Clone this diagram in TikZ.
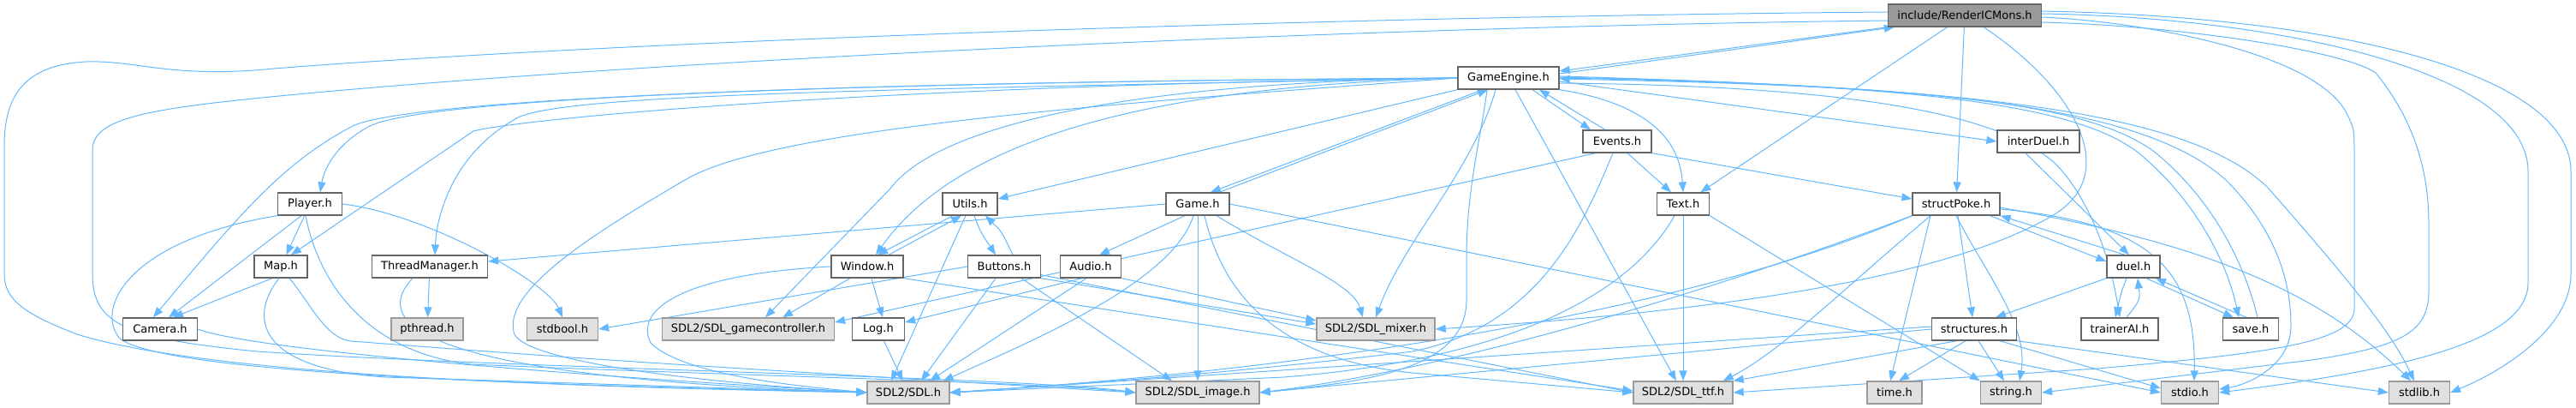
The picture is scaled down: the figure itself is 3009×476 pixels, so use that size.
\documentclass[tikz,border=0pt]{standalone}
\usepackage{fontspec}
\setmainfont{DejaVu Sans}
\usetikzlibrary{arrows.meta}
\definecolor{edgeblue}{HTML}{63B8FF}
\definecolor{boxline}{HTML}{666666}
\definecolor{extline}{HTML}{999999}
\definecolor{extfill}{HTML}{E0E0E0}
\definecolor{rootfill}{HTML}{999999}
\pgfdeclarelayer{edges}
\pgfsetlayers{edges,main}

\begin{document}
\begin{tikzpicture}[x=1pt, y=-1pt,
  hdr/.style={draw=boxline, fill=white, line width=1.3pt, minimum height=26pt,
              inner xsep=8pt, inner ysep=0pt, font=\fontsize{13}{15}\selectfont},
  ext/.style={hdr, draw=extline, fill=extfill},
  rootfile/.style={hdr, draw=boxline, fill=rootfill},
  dep/.style={-{Triangle[length=12pt,width=9pt]}, draw=edgeblue, line width=1pt},
]
\useasboundingbox (0,0) rectangle (3009,476);

\node[rootfile, minimum width=179pt] (rt) at (2295,18) {include/RenderICMons.h};
\node[hdr, minimum width=118pt] (ge) at (1762,91) {GameEngine.h};
\node[hdr, minimum width=80pt] (ev) at (1889,165) {Events.h};
\node[hdr, minimum width=96pt] (idl) at (2381,165) {interDuel.h};
\node[hdr, minimum width=75pt] (pl) at (362,238) {Player.h};
\node[hdr, minimum width=64pt] (ut) at (1133,238) {Utils.h};
\node[hdr, minimum width=74pt] (gm) at (1399,238) {Game.h};
\node[hdr, minimum width=61pt] (tx) at (1966,238) {Text.h};
\node[hdr, minimum width=102pt] (sp) at (2285,238) {structPoke.h};
\node[hdr, minimum width=62pt] (mp) at (328,311) {Map.h};
\node[hdr, minimum width=135pt] (tm) at (502,311) {ThreadManager.h};
\node[hdr, minimum width=84pt] (wn) at (1013,311) {Window.h};
\node[hdr, minimum width=85pt] (bt) at (1173,311) {Buttons.h};
\node[hdr, minimum width=71pt] (au) at (1274,311) {Audio.h};
\node[hdr, minimum width=62pt] (du) at (2492,311) {duel.h};
\node[hdr, minimum width=87pt] (cam) at (187,384) {Camera.h};
\node[ext, minimum width=84pt] (pth) at (499,384) {pthread.h};
\node[ext, minimum width=83pt] (sbool) at (657,384) {stdbool.h};
\node[ext, minimum width=201pt] (gc) at (874,384) {SDL2/SDL\_gamecontroller.h};
\node[hdr, minimum width=61pt] (lg) at (1026,384) {Log.h};
\node[ext, minimum width=138pt] (mix) at (1607,384) {SDL2/SDL\_mixer.h};
\node[hdr, minimum width=99pt] (st) at (2306,384) {structures.h};
\node[hdr, minimum width=90pt] (ai) at (2476,384) {trainerAI.h};
\node[hdr, minimum width=65pt] (sv) at (2629,384) {save.h};
\node[ext, minimum width=96pt] (sdl) at (1061,458) {SDL2/SDL.h};
\node[ext, minimum width=144pt] (img) at (1399,458) {SDL2/SDL\_image.h};
\node[ext, minimum width=116pt] (ttf) at (1966,458) {SDL2/SDL\_ttf.h};
\node[ext, minimum width=64pt] (tim) at (2213,458) {time.h};
\node[ext, minimum width=71pt] (str) at (2349,458) {string.h};
\node[ext, minimum width=67pt] (sio) at (2558,458) {stdio.h};
\node[ext, minimum width=71pt] (slib) at (2826,458) {stdlib.h};

\begin{pgfonlayer}{edges}
\draw[dep] (rt.south west) -- ([yshift=8pt]ge.east);
\draw[dep] (rt) -- (tx);
\draw[dep] (rt) -- (sp);
\draw[dep] ([xshift=22pt]rt.south) .. controls (2420,100) and (2480,200) .. (2400,250) .. controls (2250,340) and (1900,370) .. (mix.east);
\draw[dep] ([yshift=4pt]rt.west) .. controls (1500,20) and (700,50) .. (320,80) .. controls (200,92) and (160,70) .. (100,72) .. controls (30,76) and (5,110) .. (5,170) -- (5,320) .. controls (5,350) and (30,367) .. (90,390) .. controls (250,440) and (700,452) .. (sdl.west);
\draw[dep] ([yshift=-6pt]rt.west) .. controls (1500,32) and (600,80) .. (250,120) .. controls (150,132) and (108,145) .. (108,175) -- (108,320) .. controls (108,380) and (150,395) .. (300,410) .. controls (600,430) and (1200,440) .. (img.west);
\draw[dep] ([yshift=-2pt]rt.east) .. controls (2500,25) and (2700,60) .. (2740,130) .. controls (2750,150) .. (2750,180) -- (2750,360) .. controls (2750,400) and (2650,412) .. (2450,430) -- (ttf.east);
\draw[dep] ([yshift=-8pt]rt.east) .. controls (2550,30) and (2740,60) .. (2775,85) .. controls (2820,140) and (2837,200) .. (2837,260) -- (2837,340) .. controls (2837,390) and (2800,405) .. (2700,420) -- (str.east);
\draw[dep] ([yshift=2pt]rt.east) .. controls (2650,20) and (2953,80) .. (2953,200) -- (2953,330) .. controls (2953,400) and (2800,432) .. (sio.east);
\draw[dep] ([yshift=5pt]rt.east) .. controls (2750,20) and (3003,90) .. (3003,200) -- (3003,320) .. controls (3003,380) and (2930,430) .. (slib.east);

\draw[dep] ([yshift=5pt]ge.east) -- ([xshift=8pt]rt.south west);
\draw[dep] ([xshift=28pt]ge.south) -- ([xshift=-31pt]ev.north);
\draw[dep] (ge.south east) .. controls (1920,120) and (1962,160) .. (tx.north);
\draw[dep] ([yshift=-4pt]ge.east) -- (idl.west);
\draw[dep] ([yshift=-6pt]ge.east) .. controls (2150,100) and (2330,130) .. (2400,190) .. controls (2440,230) and (2465,300) .. (ai.north);
\draw[dep] ([yshift=2pt]ge.east) .. controls (2200,100) and (2420,115) .. (2500,180) .. controls (2560,230) and (2600,300) .. ([xshift=-14pt]sv.north);
\draw[dep] ([yshift=1pt]ge.east) .. controls (2250,100) and (2500,120) .. (2600,210) .. controls (2660,270) and (2676,330) .. (2676,380) .. controls (2676,430) and (2620,450) .. ([yshift=4pt]sio.east);
\draw[dep] ([yshift=0pt]ge.east) .. controls (2300,100) and (2560,130) .. (2650,220) .. controls (2720,300) and (2790,380) .. ([xshift=-6pt]slib.north);
\draw[dep] ([xshift=-30pt]ge.south) -- ([xshift=15pt]gm.north);
\draw[dep] (ge.south west) -- ([yshift=6pt]ut.east);
\draw[dep] (ge.west) .. controls (1350,100) and (1120,160) .. ([xshift=10pt]wn.north);
\draw[dep] (ge.west) .. controls (1350,95) and (1100,140) .. (1040,220) -- ([xshift=20pt]gc.north);
\draw[dep] (ge.west) .. controls (1100,95) and (500,110) .. (430,148) .. controls (390,170) and (378,200) .. ([xshift=12pt]pl.north);
\draw[dep] (ge.west) .. controls (1000,95) and (480,115) .. (412,147) .. controls (330,190) and (280,250) .. ([xshift=-8pt]cam.north);
\draw[dep] (ge.west) .. controls (1000,100) and (600,140) .. (553,153) -- ([xshift=12pt]mp.north);
\draw[dep] (ge.west) .. controls (1000,105) and (640,110) .. (600,140) .. controls (530,180) and (510,250) .. ([xshift=6pt]tm.north);
\draw[dep] ([xshift=-15pt]ge.south) .. controls (1720,200) and (1640,280) .. (mix.north);
\draw[dep] ([xshift=-25pt]ge.south) .. controls (1730,160) and (1713,220) .. (1713,300) -- (1713,350) .. controls (1713,430) and (1600,445) .. (img.east);
\draw[dep] ([xshift=8pt]ge.south) -- ([xshift=-8pt]ttf.north);
\draw[dep] (ge.west) .. controls (1300,120) and (900,150) .. (800,210) .. controls (680,280) and (590,340) .. (600,387) .. controls (605,420) and (800,445) .. (sdl.west);

\draw[dep] ([xshift=-14pt]ev.north) -- ([xshift=36pt]ge.south);
\draw[dep] ([xshift=12pt]ev.south) -- ([xshift=-14pt]tx.north);
\draw[dep] (ev.south east) -- ([yshift=6pt]sp.west);
\draw[dep] ([xshift=-25pt]ev.south) -- ([yshift=8pt]gc.east);
\draw[dep] ([xshift=-5pt]ev.south) .. controls (1850,260) and (1800,380) .. (1650,410) .. controls (1400,440) and (1200,452) .. (sdl.east);

\draw[dep] ([xshift=25pt]gm.north) -- ([xshift=-24pt]ge.south);
\draw[dep] (gm.west) -- ([yshift=6pt]tm.east);
\draw[dep] ([xshift=-15pt]gm.south) -- ([xshift=10pt]au.north);
\draw[dep] ([xshift=-5pt]gm.south) .. controls (1370,330) and (1200,400) .. ([xshift=-8pt]sdl.north east);
\draw[dep] (gm) -- (img);
\draw[dep] ([xshift=22pt]gm.south) .. controls (1500,300) and (1580,330) .. ([xshift=-15pt]mix.north);
\draw[dep] ([xshift=8pt]gm.south) .. controls (1430,350) and (1500,420) .. (1650,435) -- (ttf.west);
\draw[dep] (gm.east) -- (sio.west);

\draw[dep] ([xshift=-20pt]ut.south) -- ([xshift=12pt]wn.north);
\draw[dep] ([xshift=5pt]ut.south) .. controls (1145,270) .. ([xshift=-10pt]bt.north);
\draw[dep] ([xshift=-5pt]ut.south) -- ([xshift=-20pt]sdl.north);
\draw[dep] ([xshift=25pt]wn.north) -- ([xshift=-10pt]ut.south);
\draw[dep] ([xshift=10pt]bt.north) .. controls (1170,270) .. ([xshift=18pt]ut.south);

\draw[dep] (bt) -- ([xshift=15pt]sdl.north);
\draw[dep] (bt) -- ([xshift=-30pt]img.north);
\draw[dep] (bt.south east) -- ([yshift=6pt]mix.west);
\draw[dep] ([yshift=4pt]bt.south east) -- (ttf.west);
\draw[dep] (bt.west) -- (sbool.east);

\draw[dep] ([xshift=-10pt]au.south) -- ([yshift=8pt]lg.east);
\draw[dep] ([xshift=-5pt]au.south) -- ([xshift=25pt]sdl.north);
\draw[dep] (au.south east) -- ([yshift=10pt]mix.west);

\draw[dep] ([xshift=5pt]wn.south) -- ([xshift=5pt]lg.north);
\draw[dep] ([xshift=-20pt]wn.south) -- ([xshift=40pt]gc.north);
\draw[dep] (wn.west) .. controls (800,320) and (740,360) .. (760,400) .. controls (800,440) and (950,452) .. (sdl.west);
\draw[dep] (wn.south east) -- ([yshift=2pt]ttf.west);
\draw[dep] (lg) -- (sdl);

\draw[dep] ([xshift=-10pt]pl.south) -- ([xshift=10pt]cam.north);
\draw[dep] (pl) -- (mp);
\draw[dep] (pl.east) .. controls (500,250) and (640,330) .. (sbool.north);
\draw[dep] (pl.south west) .. controls (150,280) and (110,360) .. (140,395) .. controls (200,440) and (700,450) .. (sdl.west);
\draw[dep] ([xshift=-5pt]pl.south) .. controls (370,320) and (420,410) .. (550,425) .. controls (900,440) and (1200,445) .. (img.west);

\draw[dep] ([xshift=-10pt]mp.south) -- ([xshift=15pt]cam.north);
\draw[dep] ([xshift=-2pt]mp.south) .. controls (290,370) and (300,430) .. (450,440) -- (sdl.west);
\draw[dep] ([xshift=10pt]mp.south) .. controls (360,350) and (380,395) .. (410,398) .. controls (700,420) .. (img.west);
\draw[dep] (cam.east) .. controls (300,410) and (700,440) .. (sdl.west);
\draw[dep] (tm) -- (pth);
\draw[dep] ([xshift=-20pt]tm.south) .. controls (430,380) and (500,440) .. (sdl.west);

\draw[dep] ([xshift=-12pt]sp.south east) -- ([yshift=6pt]du.west);
\draw[dep] (sp) -- (st);
\draw[dep] ([xshift=-30pt]sp.south) -- ([xshift=-5pt]tim.north);
\draw[dep] (sp.south) .. controls (2320,320) and (2370,380) .. ([xshift=10pt]str.north);
\draw[dep] ([yshift=-6pt]sp.east) .. controls (2520,260) and (2565,320) .. ([xshift=5pt]sio.north);
\draw[dep] ([yshift=-4pt]sp.east) .. controls (2550,280) and (2700,330) .. ([xshift=-10pt]slib.north);
\draw[dep] (sp.south west) .. controls (2050,330) and (1700,420) .. (sdl.east);
\draw[dep] (sp.south west) .. controls (2000,340) and (1700,430) .. (img.east);
\draw[dep] ([xshift=-30pt]sp.south) .. controls (2150,340) and (2080,410) .. ([xshift=-12pt]ttf.north east);

\draw[dep] ([xshift=-10pt]du.north) -- (sp.south east);
\draw[dep] (du.south west) -- ([xshift=25pt]st.north);
\draw[dep] ([xshift=-8pt]du.south) .. controls (2478,340) .. ([xshift=-5pt]ai.north);
\draw[dep] ([xshift=15pt]du.south) -- ([xshift=-20pt]sv.north);
\draw[dep] ([xshift=8pt]ai.north) .. controls (2500,350) .. ([xshift=5pt]du.south);
\draw[dep] ([xshift=-5pt]sv.north) -- ([xshift=26pt]du.south);
\draw[dep] ([xshift=8pt]sv.north) .. controls (2620,300) and (2580,230) .. (2520,180) .. controls (2440,115) and (2220,100) .. ([yshift=-1pt]ge.east);
\draw[dep] ([xshift=-15pt]idl.south) -- ([xshift=-5pt]du.north);

\draw[dep] ([xshift=-10pt]st.south) -- ([xshift=5pt]tim.north);
\draw[dep] ([xshift=5pt]st.south) -- ([xshift=-8pt]str.north);
\draw[dep] ([xshift=30pt]st.south) -- ([yshift=5pt]sio.west);
\draw[dep] (st.south east) -- (slib.west);
\draw[dep] ([yshift=3pt]st.west) -- (sdl.east);
\draw[dep] (st.west) -- (img.east);
\draw[dep] ([xshift=-20pt]st.south) -- (ttf.north east);

\draw[dep] (tx) -- (ttf);
\draw[dep] ([xshift=-10pt]tx.south) .. controls (1900,350) and (1750,420) .. (1500,440) -- (sdl.east);
\draw[dep] (tx.south east) -- (str.north west);
\end{pgfonlayer}
\end{tikzpicture}
\end{document}
